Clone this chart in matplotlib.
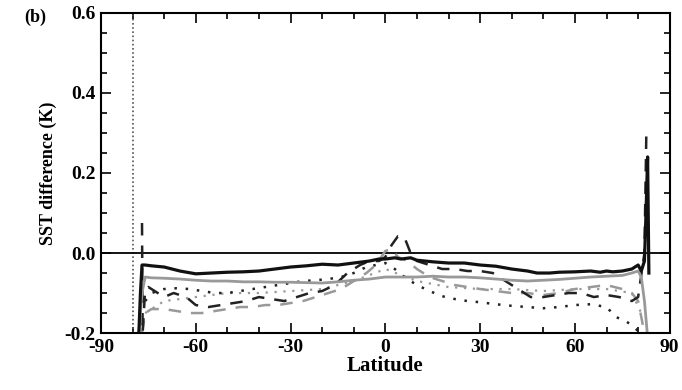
import matplotlib
matplotlib.use("Agg")
import matplotlib.pyplot as plt
import numpy as np

# --- data (latitude, SST difference in K) ---
lat_blk = [-78, -77.5, -77, -76, -74, -70, -65, -60, -55, -50, -45, -40, -35, -30,
           -25, -20, -15, -10, -5, -2, 0, 3, 5, 8, 10, 15, 20, 25, 30, 35, 40, 45,
           48, 52, 55, 60, 65, 68, 70, 72, 75, 78, 80, 81, 82, 82.5, 83, 83.4]
sst_blk = [-0.2, -0.1, -0.03, -0.03, -0.032, -0.035, -0.045, -0.052, -0.05, -0.048,
           -0.047, -0.045, -0.04, -0.035, -0.032, -0.028, -0.03, -0.025, -0.02, -0.015,
           -0.015, -0.012, -0.015, -0.012, -0.018, -0.022, -0.025, -0.025, -0.03, -0.033,
           -0.04, -0.045, -0.05, -0.05, -0.048, -0.047, -0.045, -0.048, -0.045, -0.047,
           -0.045, -0.04, -0.03, -0.045, -0.02, 0.1, 0.24, -0.05]

lat_gry = [-78, -77, -76, -74, -70, -65, -60, -55, -50, -45, -40, -35, -30, -25, -20,
           -15, -10, -5, 0, 5, 10, 15, 20, 25, 30, 35, 40, 45, 50, 55, 60, 65, 70, 75,
           78, 80, 81, 82, 83]
sst_gry = [-0.2, -0.1, -0.06, -0.062, -0.063, -0.065, -0.068, -0.07, -0.07, -0.072,
           -0.072, -0.073, -0.073, -0.074, -0.075, -0.072, -0.068, -0.065, -0.06, -0.06,
           -0.06, -0.058, -0.06, -0.06, -0.062, -0.065, -0.068, -0.07, -0.068, -0.066,
           -0.063, -0.06, -0.058, -0.056, -0.05, -0.045, -0.06, -0.12, -0.21]

lat_blk_dash = [-77, -76.8, -76, -75, -72, -70, -67, -63, -60, -56, -52, -48, -44, -40,
                -36, -32, -28, -24, -20, -16, -12, -8, -5, -2, 0, 2, 4, 6, 8, 10, 14,
                18, 22, 26, 30, 34, 38, 42, 46, 50, 54, 58, 62, 66, 70, 74, 78, 80, 82,
                82.6]
sst_blk_dash = [0.075, -0.2, -0.09, -0.085, -0.1, -0.11, -0.1, -0.11, -0.13, -0.135,
                -0.13, -0.125, -0.12, -0.11, -0.115, -0.12, -0.11, -0.1, -0.095, -0.08,
                -0.05, -0.03, -0.02, -0.02, -0.01, 0.02, 0.042, 0.04, 0.0, -0.02, -0.03,
                -0.04, -0.04, -0.045, -0.045, -0.05, -0.07, -0.09, -0.11, -0.11, -0.105,
                -0.1, -0.1, -0.11, -0.105, -0.11, -0.12, -0.11, 0.0, 0.3]

lat_gry_dash = [-77, -76, -74, -70, -66, -62, -58, -54, -50, -46, -42, -38, -34, -30,
                -26, -22, -18, -14, -10, -6, -3, 0, 2, 4, 7, 10, 14, 18, 22, 26, 30,
                35, 40, 45, 50, 55, 60, 65, 70, 75, 78, 80, 82]
sst_gry_dash = [-0.2, -0.15, -0.14, -0.14, -0.145, -0.15, -0.15, -0.145, -0.14, -0.135,
                -0.135, -0.13, -0.13, -0.125, -0.12, -0.11, -0.1, -0.09, -0.07, -0.05,
                -0.03, 0.005, 0.01, -0.01, -0.02, -0.04, -0.06, -0.07, -0.08, -0.085,
                -0.09, -0.095, -0.1, -0.1, -0.105, -0.1, -0.09, -0.085, -0.08, -0.09,
                -0.1, -0.12, -0.2]

lat_blk_dot = [-76, -74, -70, -66, -62, -58, -54, -50, -46, -42, -38, -34, -30, -26,
               -22, -18, -14, -10, -6, -3, 0, 3, 6, 10, 14, 18, 22, 26, 30, 35, 40,
               45, 50, 55, 60, 65, 70, 73, 76, 78, 80, 81]
sst_blk_dot = [-0.12, -0.1, -0.09, -0.088, -0.09, -0.095, -0.1, -0.1, -0.095, -0.09,
               -0.085, -0.08, -0.075, -0.07, -0.068, -0.065, -0.06, -0.05, -0.035, -0.03,
               -0.025, -0.04, -0.06, -0.08, -0.095, -0.108, -0.115, -0.12, -0.123,
               -0.128, -0.132, -0.135, -0.138, -0.135, -0.13, -0.128, -0.135, -0.16,
               -0.17, -0.18, -0.195, -0.21]

lat_gry_dot = [-76, -70, -60, -50, -40, -30, -20, -10, 0, 10, 20, 30, 40, 50, 60, 70,
               78, 81]
sst_gry_dot = [-0.15, -0.12, -0.11, -0.1, -0.1, -0.095, -0.09, -0.07, -0.04, -0.07,
               -0.085, -0.09, -0.09, -0.095, -0.09, -0.09, -0.1, -0.15]

ice_edge = -80  # vertical dotted marker

plt.rcParams["font.family"] = ["Liberation Serif", "DejaVu Serif"]
plt.rcParams["font.weight"] = "bold"

fig = plt.figure(figsize=(6.82, 3.9), dpi=100)
ax = fig.add_axes([0.148, 0.146, 0.834, 0.821])

ax.axvline(ice_edge, color="#555555", lw=1.2, ls=(0, (1, 1.5)))
ax.axhline(0, color="black", lw=1.3)

ax.plot(lat_gry_dot, sst_gry_dot, color="#999999", lw=1.6, ls=(0, (1, 3)))
ax.plot(lat_blk_dot, sst_blk_dot, color="#222222", lw=1.8, ls=(0, (1, 3.5)))
ax.plot(lat_gry_dash, sst_gry_dash, color="#999999", lw=1.8, ls=(0, (5, 4)))
ax.plot(lat_blk_dash, sst_blk_dash, color="#222222", lw=1.8, ls=(0, (5, 4)))
ax.plot(lat_gry, sst_gry, color="#999999", lw=2.0)
ax.plot(lat_blk, sst_blk, color="#111111", lw=2.3)

ax.set_xlim(-90, 90)
ax.set_ylim(-0.2, 0.6)
ax.set_xticks(np.arange(-90, 91, 30))
ax.set_xticks(np.arange(-90, 91, 10), minor=True)
ax.set_yticks([-0.2, 0.0, 0.2, 0.4, 0.6])
ax.set_yticks(np.arange(-0.2, 0.61, 0.05), minor=True)
ax.set_yticklabels(["-0.2", "0.0", "0.2", "0.4", "0.6"])
ax.set_xticklabels(["-90", "-60", "-30", "0", "30", "60", "90"])

ax.tick_params(which="both", direction="in", top=True, right=True, width=1.2,
               labelsize=14)
ax.tick_params(which="major", length=7, pad=4)
ax.tick_params(which="minor", length=4)
for s in ax.spines.values():
    s.set_linewidth(1.5)

ax.set_xlabel("Latitude", fontsize=15, fontweight="bold", labelpad=0)
ax.set_ylabel("SST difference (K)", fontsize=13, fontweight="bold", labelpad=5)
fig.text(0.035, 0.955, "(b)", fontsize=13, fontweight="bold", va="center")

fig.savefig("out.png", dpi=100)
